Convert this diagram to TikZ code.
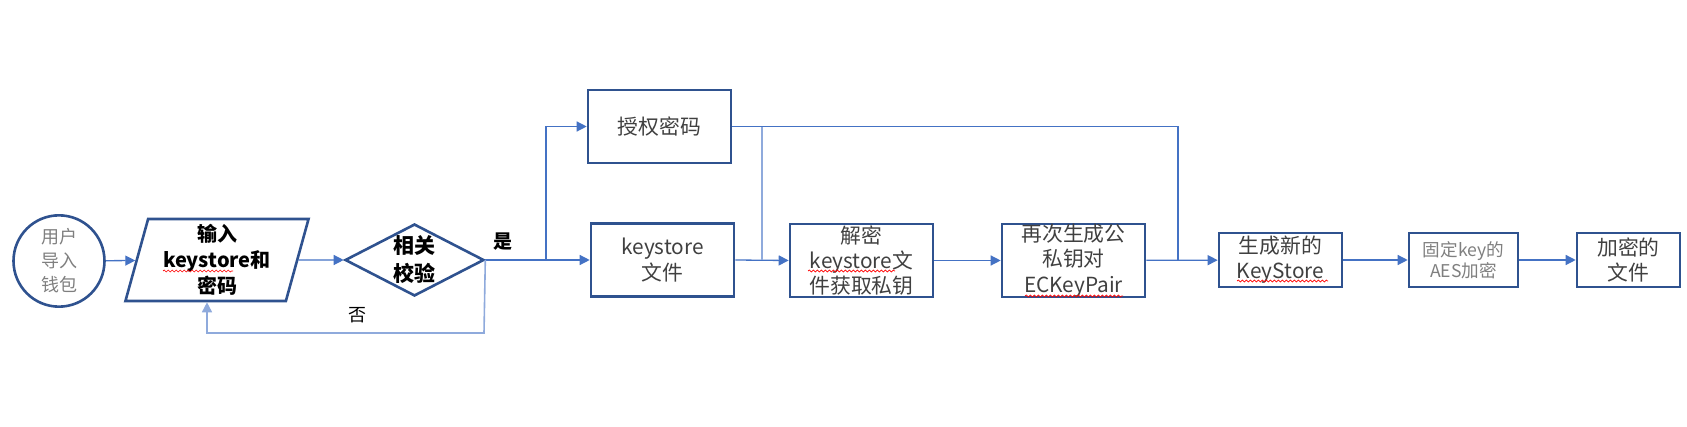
\documentclass[tikz,border=0pt]{standalone}
\usepackage{fontspec}
\setmainfont{Noto Sans CJK SC}
\usetikzlibrary{shapes.geometric,arrows.meta,decorations.pathmorphing}
\definecolor{boxblue}{HTML}{2F528F}
\definecolor{lineblue}{HTML}{4472C4}
\definecolor{lightblue}{HTML}{8FAADC}
\definecolor{txtgray}{HTML}{404040}
\definecolor{circgray}{HTML}{7F7F7F}
\begin{document}
\begin{tikzpicture}[x=0.5pt,y=-0.5pt,
  box/.style={draw=boxblue,line width=1.3pt,rectangle,inner sep=0pt,align=center,text=txtgray,font=\fontsize{10.4}{12.6}\selectfont},
  conn/.style={draw=lineblue,line width=0.65pt},
  arr/.style={conn,-{Triangle[length=5pt,width=5pt]}},
  lightconn/.style={draw=lightblue,line width=0.8pt},
  squiggle/.style={draw=red,line width=0.35pt,decorate,decoration={snake,segment length=2pt,amplitude=0.5pt}},
]
\useasboundingbox (0,0) rectangle (1687,427);
% nodes
\node[ellipse,draw=boxblue,line width=1.3pt,minimum width=45.5pt,minimum height=44pt,inner sep=0pt,align=center,text=circgray,font=\fontsize{9}{12}\selectfont] (start) at (59,261) {用户\\导入\\钱包};
\node[trapezium,trapezium left angle=76,trapezium right angle=104,trapezium stretches=true,draw=boxblue,line width=1.3pt,minimum width=92pt,minimum height=41pt,inner sep=0pt,align=center,font=\bfseries\fontsize{10}{13}\selectfont] (inp) at (217,260) {输入\\keystore和\\密码};
\node[diamond,draw=boxblue,line width=1.3pt,shape aspect=2,minimum width=69.5pt,minimum height=36pt,inner sep=0pt,align=center,font=\bfseries\fontsize{10.5}{14}\selectfont] (chk) at (414.5,260) {相关\\校验};
\node[box,minimum width=71.5pt,minimum height=36.5pt] (auth) at (659.5,126.5) {授权密码};
\node[box,minimum width=71.5pt,minimum height=36.5pt] (ks) at (662.5,260) {keystore\\文件};
\node[box,minimum width=71.5pt,minimum height=36.5pt] (dec) at (861.5,260.5) {解密\\keystore文\\件获取私钥};
\node[box,minimum width=71.5pt,minimum height=36.5pt] (regen) at (1073.5,260.5) {再次生成公\\私钥对\\ECKeyPair};
\node[box,minimum width=61.5pt,minimum height=27pt] (newks) at (1280.5,260) {生成新的\\KeyStore};
\node[box,minimum width=54.5pt,minimum height=27pt,text=circgray,font=\fontsize{8.8}{10.6}\selectfont] (aes) at (1463.5,260) {固定key的\\AES加密};
\node[box,minimum width=51.5pt,minimum height=27pt] (enc) at (1628.5,260) {加密的\\文件};
\node[font=\bfseries\fontsize{9.5}{11}\selectfont] (yes) at (503,242) {是};
\node[font=\fontsize{9}{11}\selectfont] (no) at (357,315) {否};
% connectors
\draw[arr] (start) -- (inp);
\draw[arr] (inp) -- (chk);
\draw[arr] (chk.east) -- (ks.west);
\coordinate (b1) at (546,260);
\draw[arr] (b1) |- (auth.west);
\draw[arr] (ks.east) -- (dec.west);
\coordinate (j1) at (762,260);
\draw[lightconn] (j1 |- auth.east) -- (j1);
\coordinate (j2) at (1178,260);
\draw[conn] (auth.east) -| (j2);
\draw[arr] (dec) -- (regen);
\draw[arr] (regen) -- (newks);
\draw[arr] (newks) -- (aes);
\draw[arr] (aes) -- (enc);
\coordinate (fb1) at (484,333);
\coordinate (fb2) at (207,333);
\draw[arr,draw=lightblue,line width=0.8pt] (chk.east) -- (fb1) -- (fb2) -- (fb2 |- inp.south);
% spell-check squiggles
\draw[squiggle] (163,271) -- (233,271);
\draw[squiggle] (808,271) -- (895,271);
\draw[squiggle] (1025,296) -- (1123,296);
\draw[squiggle] (1237,281) -- (1328,281);
\end{tikzpicture}
\end{document}
